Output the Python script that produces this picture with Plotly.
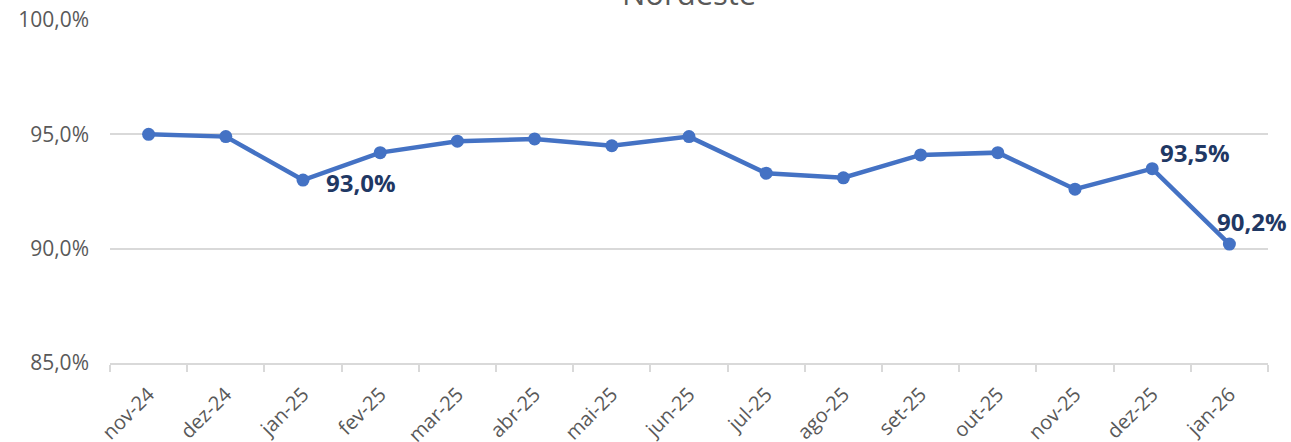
import plotly.graph_objects as go

months = ["nov-24", "dez-24", "jan-25", "fev-25", "mar-25", "abr-25", "mai-25", "jun-25",
          "jul-25", "ago-25", "set-25", "out-25", "nov-25", "dez-25", "jan-26"]
values = [95.0, 94.9, 93.0, 94.2, 94.7, 94.8, 94.5, 94.9, 93.3, 93.1, 94.1, 94.2, 92.6, 93.5, 90.2]
labeled = {"jan-25": (58, -2), "dez-25": (43, 16), "jan-26": (23, 23)}  # xshift, yshift

TITLE = "Nordeste"
LINE = "#4472C4"
LABEL = "#1F3864"
GRAY = "#595959"
GRID = "#D9D9D9"

fig = go.Figure()
fig.add_trace(go.Scatter(
    x=months, y=values, mode="lines+markers",
    line=dict(color=LINE, width=4.5),
    marker=dict(color=LINE, size=13),
    hoverinfo="skip", showlegend=False,
))

for m, v in zip(months, values):
    if m in labeled:
        xs, ys = labeled[m]
        fig.add_annotation(
            x=m, y=v, text=f"{v:.1f}%".replace(".", ","), showarrow=False,
            xshift=xs, yshift=ys,
            font=dict(family="Open Sans", size=24, color=LABEL, weight="bold"),
        )

fig.add_annotation(
    x=0.5, y=1, xref="paper", yref="paper", text=TITLE, showarrow=False,
    yanchor="bottom", yshift=4,
    font=dict(family="Open Sans", size=31, color=GRAY),
)

fig.update_layout(
    width=1291, height=442,
    margin=dict(l=110, r=23, t=20, b=79),
    paper_bgcolor="white", plot_bgcolor="white",
    separators=",.",
    font=dict(family="Open Sans", color=GRAY),
)
fig.update_xaxes(
    type="category", range=[-0.5, 14.5], automargin=False,
    showgrid=False, showline=True, linecolor=GRID, linewidth=1.5,
    ticks="outside", tickson="boundaries", ticklen=7, tickcolor=GRID, tickwidth=1.5,
    tickangle=-45, tickfont=dict(size=20, color=GRAY), ticklabelstandoff=10,
)
fig.update_yaxes(
    range=[85, 100], dtick=5, tickformat=".1f", ticksuffix="%", automargin=False,
    showgrid=True, gridcolor=GRID, gridwidth=1.5, zeroline=False,
    showline=False, ticklabelstandoff=20,
    tickfont=dict(size=21, color=GRAY),
)

fig.write_html("out.html", config={"displayModeBar": False},
               post_script="document.body.style.margin='0';")
